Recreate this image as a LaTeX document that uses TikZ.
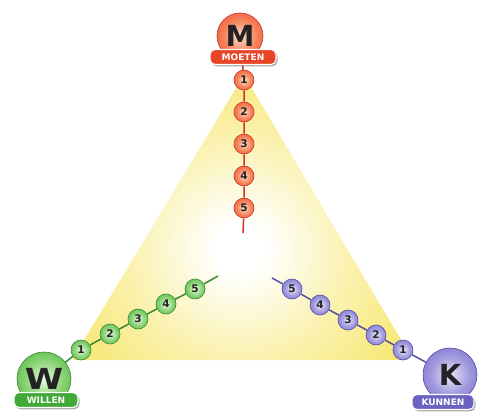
\documentclass[tikz,border=0pt]{standalone}
\usepackage{fontspec}
\newfontfamily\djf{DejaVu Sans}
\usetikzlibrary{shadows,backgrounds}
\definecolor{yel}{RGB}{243,220,50}
\definecolor{rP}{RGB}{253,222,200}
\definecolor{rM}{RGB}{246,130,90}
\definecolor{rR}{RGB}{232,68,38}
\definecolor{rD}{RGB}{205,55,35}
\definecolor{gP}{RGB}{232,250,222}
\definecolor{gM}{RGB}{135,210,115}
\definecolor{gR}{RGB}{66,168,56}
\definecolor{gD}{RGB}{52,140,45}
\definecolor{bP}{RGB}{234,233,250}
\definecolor{bM}{RGB}{160,152,222}
\definecolor{bR}{RGB}{108,98,192}
\definecolor{bD}{RGB}{84,78,165}
\definecolor{ink}{RGB}{35,35,35}
\pgfdeclareradialshading{triS}{\pgfpoint{0bp}{0bp}}{color(0bp)=(white); color(3bp)=(white); color(14bp)=(yel!40!white); color(30bp)=(yel!85!white); color(40bp)=(yel); color(50bp)=(yel)}
\pgfdeclareradialshading{ballR}{\pgfpoint{0bp}{0bp}}{color(0bp)=(rP); color(18bp)=(rM); color(40bp)=(rR); color(50bp)=(rR)}
\pgfdeclareradialshading{ballG}{\pgfpoint{0bp}{0bp}}{color(0bp)=(gP); color(18bp)=(gM); color(40bp)=(gR); color(50bp)=(gR)}
\pgfdeclareradialshading{ballB}{\pgfpoint{0bp}{0bp}}{color(0bp)=(bP); color(18bp)=(bM); color(40bp)=(bR); color(50bp)=(bR)}
\tikzset{
  big/.style={circle, inner sep=0pt, minimum size=#1, line width=0.6pt, text=ink,
    font={\djf\bfseries\fontsize{29}{30}\selectfont}},
  small/.style={circle, inner sep=0pt, minimum size=20pt, line width=0.6pt, text=ink,
    font={\djf\bfseries\fontsize{10.5}{10.5}\selectfont}},
  redball/.style={shading=ballR, draw=rD},
  greenball/.style={shading=ballG, draw=gD},
  blueball/.style={shading=ballB, draw=bD},
  tag/.style={rectangle, rounded corners=5pt, inner sep=0pt, minimum width=#1,
    minimum height=15pt, draw=white, line width=1.1pt, text=white,
    font={\djf\bfseries\fontsize{9}{9}\selectfont},
    drop shadow={shadow xshift=1.5pt, shadow yshift=-1.8pt, fill=black!60, opacity=0.55}},
  chainline/.style={line width=1.5pt, draw=#1},
}
\begin{document}
\begin{tikzpicture}[x=1pt, y=-1pt]
\begin{scope}[on background layer]
  \fill[white] (0,0) rectangle (483,415);
  \coordinate (ta) at (244,75);
  \coordinate (tl) at (72,360);
  \coordinate (tr) at (413,360);
  \begin{scope}
    \clip (ta) -- (tl) -- (tr) -- cycle;
    \shade[shading=triS] (240,248) circle[radius=200];
  \end{scope}
\end{scope}
\useasboundingbox (0,0) rectangle (483,415);

% M (moeten)
\node[big=46pt, redball] (M) at (240,36) {M};
\node[tag=66pt, fill=rR] (Mt) at (243,57) {MOETEN};
\node[small, redball] (m1) at (244,80) {1};
\node[small, redball] (m2) at (244,112) {2};
\node[small, redball] (m3) at (244,144) {3};
\node[small, redball] (m4) at (244,176) {4};
\node[small, redball] (m5) at (244,208) {5};
\coordinate (mend) at (243,233);

% W (willen)
\node[big=54pt, greenball] (W) at (44,379) {\scalebox{1.2}[1]{W}};
\node[tag=64pt, fill=gR] (Wt) at (46,400) {WILLEN};
\node[small, greenball] (w1) at (81,350) {1};
\node[small, greenball] (w2) at (110,334) {2};
\node[small, greenball] (w3) at (138,319) {3};
\node[small, greenball] (w4) at (166,304) {4};
\node[small, greenball] (w5) at (195,289) {5};
\coordinate (wend) at (218,276);

% K (kunnen)
\node[big=54pt, blueball] (K) at (450,375) {K};
\node[tag=62pt, fill=bR] (Kt) at (443,402) {KUNNEN};
\node[small, blueball] (k1) at (403,350) {1};
\node[small, blueball] (k2) at (376,335) {2};
\node[small, blueball] (k3) at (348,320) {3};
\node[small, blueball] (k4) at (320,305) {4};
\node[small, blueball] (k5) at (292,289) {5};
\coordinate (kend) at (272,278);

\begin{scope}[on background layer]
  \draw[chainline=rD] (M) -- (m1) -- (m2) -- (m3) -- (m4) -- (m5) -- (mend);
  \draw[chainline=gD] (W) -- (w1) -- (w2) -- (w3) -- (w4) -- (w5) -- (wend);
  \draw[chainline=bD] (K) -- (k1) -- (k2) -- (k3) -- (k4) -- (k5) -- (kend);
\end{scope}
\end{tikzpicture}
\end{document}
